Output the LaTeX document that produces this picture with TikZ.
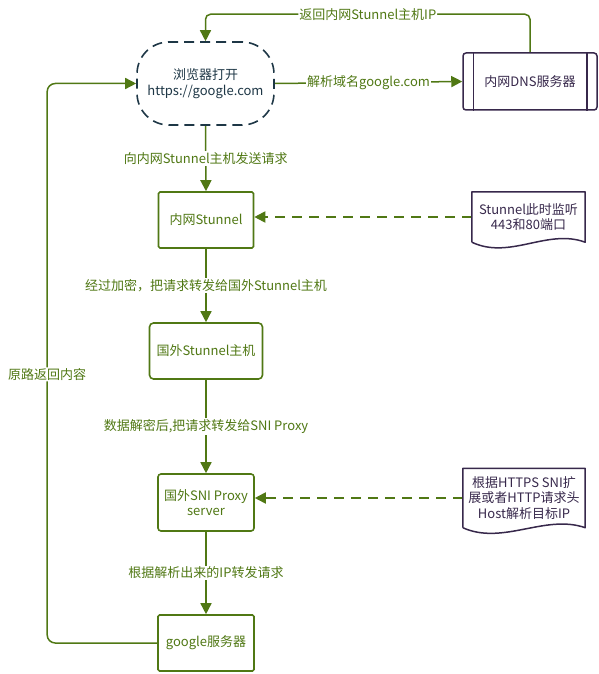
\documentclass[tikz,border=0pt]{standalone}
\usepackage{fontspec}
\setmainfont{Noto Sans CJK SC}
\usetikzlibrary{arrows.meta}
\pgfdeclarelayer{edgelayer}
\pgfdeclarelayer{nodelayer}
\pgfsetlayers{edgelayer,nodelayer,main}
\definecolor{flowgreen}{RGB}{80,120,20}
\definecolor{browserteal}{RGB}{30,55,70}
\definecolor{serverpurple}{RGB}{55,40,75}
\tikzstyle{box}=[rectangle, draw=flowgreen, line width=1.6pt, fill=white, text=flowgreen, align=center, inner sep=0pt, rounded corners=1.5pt]
\tikzstyle{browser}=[rectangle, rounded corners=32pt, draw=browserteal, dash pattern=on 10pt off 6pt, line width=1.6pt, fill=white, text=browserteal, align=center, minimum width=137pt, minimum height=83pt]
\tikzstyle{server}=[rectangle, rounded corners=3pt, draw=serverpurple, line width=1.5pt, fill=white, text=serverpurple, minimum width=134pt, minimum height=57pt]
\tikzstyle{note}=[rectangle, text=serverpurple, align=center, inner sep=0pt]
\tikzstyle{noteline}=[draw=serverpurple, line width=1.5pt, line join=round]
\tikzstyle{edge}=[draw=flowgreen, line width=1.5pt, -{Triangle[length=11pt,width=11pt]}]
\tikzstyle{dashedge}=[edge, line width=1.9pt, dash pattern=on 10pt off 7pt]
\tikzstyle{elabel}=[fill=white, text=flowgreen, inner sep=1pt]

\begin{document}
\begin{tikzpicture}[x=1pt, y=-1pt, font=\fontsize{13}{15.5}\selectfont]
	\useasboundingbox (0,0) rectangle (599,674);
	\begin{pgfonlayer}{nodelayer}
		\node [style=browser] (0) at (205.5, 83.5) {浏览器打开\\https://google.com};
		\node [style=server] (1) at (530, 81.5) {内网DNS服务器};
		\node [style=box, minimum width=95pt, minimum height=56pt] (2) at (206, 220) {内网Stunnel};
		\node [style=note, minimum width=113pt, minimum height=50pt] (3) at (528.5, 217) {Stunnel此时监听\\443和80端口};
		\node [style=box, minimum width=113pt, minimum height=56pt, rounded corners=4pt] (4) at (206, 351) {国外Stunnel主机};
		\node [style=box, minimum width=96pt, minimum height=57pt, rounded corners=3pt] (5) at (206, 502.5) {国外SNI Proxy\\server};
		\node [style=note, minimum width=122pt, minimum height=59pt] (6) at (524, 498) {根据HTTPS SNI扩\\展或者HTTP请求头\\Host解析目标IP};
		\node [style=box, minimum width=96pt, minimum height=56pt] (7) at (206, 643) {google服务器};
		% inner bars of the server box
		\draw [style=noteline] ([xshift=11pt]1.north west) -- ([xshift=11pt]1.south west);
		\draw [style=noteline] ([xshift=-11pt]1.north east) -- ([xshift=-11pt]1.south east);
		% note outlines
		\draw [style=noteline] (3.south west) -- (3.north west) -- (3.north east) -- (3.south east)
			.. controls ([xshift=-38pt,yshift=14pt]3.south east) and ([xshift=38pt,yshift=-18pt]3.south west) .. (3.south west);
		\draw [style=noteline] (6.south west) -- (6.north west) -- (6.north east) -- (6.south east)
			.. controls ([xshift=-40pt,yshift=14pt]6.south east) and ([xshift=40pt,yshift=-18pt]6.south west) .. (6.south west);
	\end{pgfonlayer}
	\begin{pgfonlayer}{edgelayer}
		\draw [style=edge] (0.east) -- node[style=elabel] {解析域名google.com} (1.west);
		\draw [style=edge, rounded corners=5pt] (1.north) -- ++(0,-38) -| node[style=elabel, pos=0.25] {返回内网Stunnel主机IP} (0.north);
		\draw [style=edge] (0.south) -- node[style=elabel] {向内网Stunnel主机发送请求} (2.north);
		\draw [style=dashedge] (3.west) -- (3.west -| 2.east);
		\draw [style=edge] (2.south) -- node[style=elabel] {经过加密，把请求转发给国外Stunnel主机} (4.north);
		\draw [style=edge] (4.south) -- node[style=elabel] {数据解密后,把请求转发给SNI Proxy} (5.north);
		\draw [style=dashedge] (6.west) -- (6.west -| 5.east);
		\draw [style=edge] (5.south) -- node[style=elabel] {根据解析出来的IP转发请求} (7.north);
		\draw [style=edge, rounded corners=8pt] (7.west) -- ++(-110,0) |- node[style=elabel, pos=0.24] {原路返回内容} (0.west);
	\end{pgfonlayer}
\end{tikzpicture}
\end{document}
